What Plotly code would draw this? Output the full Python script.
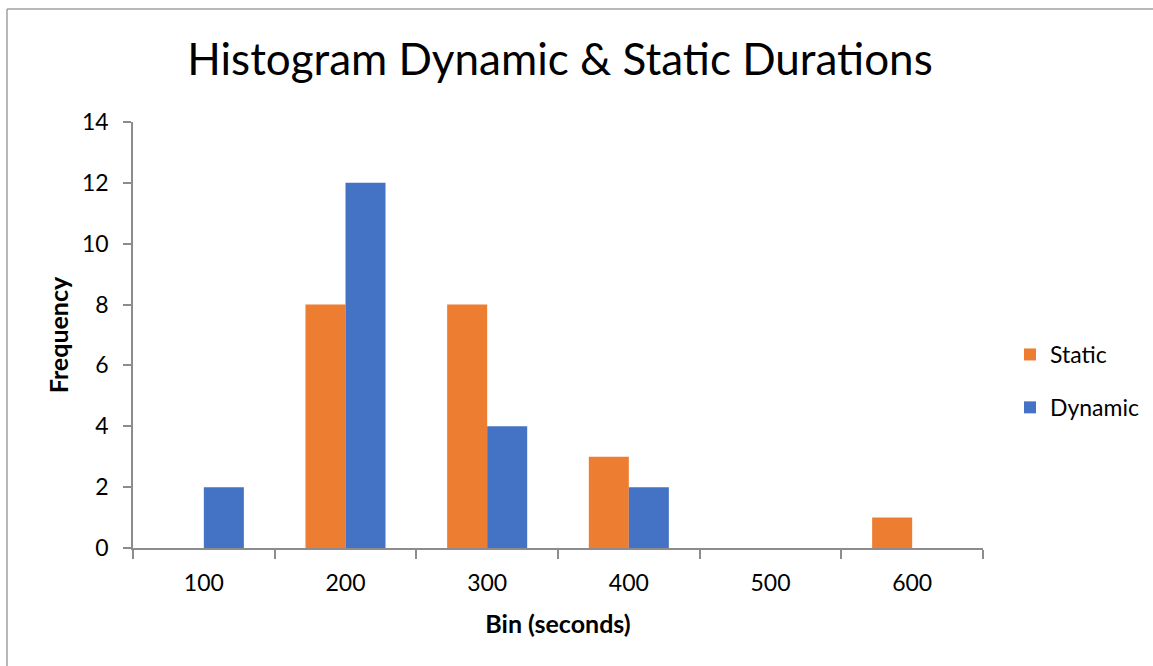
import plotly.graph_objects as go

bins = ["100", "200", "300", "400", "500", "600"]
static_counts = [0, 8, 8, 3, 0, 1]
dynamic_counts = [2, 12, 4, 2, 0, 0]
y_ticks = [0, 2, 4, 6, 8, 10, 12, 14]

FONT = "Lato"
AXIS_GRAY = "#8c8c8c"

fig = go.Figure()
fig.add_trace(go.Bar(x=bins, y=static_counts, name="Static", legendgroup="s",
                     marker=dict(color="#ED7D31", line=dict(width=0))))
fig.add_trace(go.Bar(x=bins, y=dynamic_counts, name="Dynamic", legendgroup="d",
                     marker=dict(color="#4472C4", line=dict(width=0))))

W, H = 1153, 666
L, R, T, B = 133, 5, 122, 118
AX_RIGHT = 983
pw, ph = W - L - R, H - T - B

def px_x(p):
    return (p - L) / pw

def px_y(p):
    return (H - B - p) / ph

fig.update_layout(
    width=W, height=H,
    margin=dict(l=L, r=R, t=T, b=B),
    paper_bgcolor="white", plot_bgcolor="white",
    barmode="group", bargap=0.435, bargroupgap=0,
    font=dict(family=FONT, color="#000000", size=23),
    title=dict(text="Histogram Dynamic & Static Durations",
               font=dict(family=FONT, size=44, color="#000000"),
               x=560 / W, xanchor="center", y=1 - 60 / H, yanchor="middle"),
    legend=dict(x=px_x(1010), xanchor="left", y=px_y(381), yanchor="middle",
                font=dict(family=FONT, size=23), itemwidth=30,
                tracegroupgap=20, bgcolor="rgba(0,0,0,0)"),
    xaxis=dict(type="category", domain=[0, px_x(AX_RIGHT)],
               showline=True, linecolor=AXIS_GRAY, linewidth=1.5,
               ticks="outside", tickson="boundaries", ticklen=9, tickcolor=AXIS_GRAY,
               tickwidth=1.5, showgrid=False, zeroline=False, ticklabelstandoff=14,
               title=dict(text="<b>Bin (seconds)</b>", font=dict(family=FONT, size=25),
                          standoff=20)),
    yaxis=dict(range=[0, 14], tickvals=y_ticks, showline=True, linecolor=AXIS_GRAY,
               linewidth=1.5, ticks="outside", ticklen=8, tickcolor=AXIS_GRAY,
               tickwidth=1.5, showgrid=False, zeroline=False, ticklabelstandoff=10,
               title=dict(text="<b>Frequency</b>", font=dict(family=FONT, size=25),
                          standoff=6)),
    shapes=[dict(type="line", xref="paper", yref="paper",
                 x0=px_x(7), x1=px_x(W + 5), y0=px_y(9), y1=px_y(9),
                 line=dict(color="#a0a0a0", width=1.5)),
            dict(type="line", xref="paper", yref="paper",
                 x0=px_x(7), x1=px_x(7), y0=px_y(9), y1=px_y(H + 5),
                 line=dict(color="#a0a0a0", width=1.5))],
)

fig.write_html("out.html")
